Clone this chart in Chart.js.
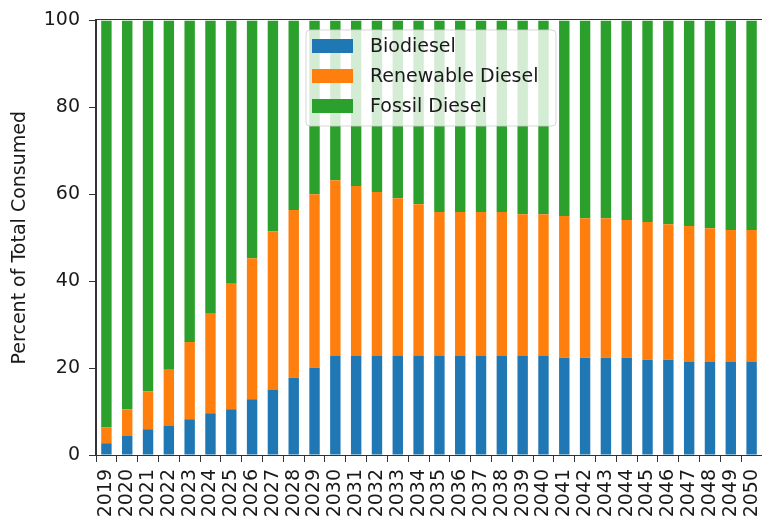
<!DOCTYPE html>
<html>
<head>
<meta charset="utf-8">
<script src="https://cdn.jsdelivr.net/npm/chart.js@4"></script>
<style>
  html, body { margin: 0; padding: 0; background: #fff; }
  #wrap { width: 762px; height: 522px; }
</style>
</head>
<body>
<div id="wrap"><canvas id="grafico" width="762" height="522"></canvas></div>
<script>
const years = ['2019','2020','2021','2022','2023','2024','2025','2026','2027','2028',
  '2029','2030','2031','2032','2033','2034','2035','2036','2037','2038','2039','2040',
  '2041','2042','2043','2044','2045','2046','2047','2048','2049','2050'];

// biodiesel share (%)
const biodiesel = [2.7, 4.4, 5.9, 6.8, 8.2, 9.6, 10.5, 12.8, 15.1, 17.8,
  20.1, 22.9, 22.9, 22.9, 22.9, 22.9, 22.9, 22.9, 22.9, 22.9, 22.9, 22.9,
  22.4, 22.4, 22.4, 22.4, 21.9, 21.9, 21.5, 21.5, 21.5, 21.5];

// renewable diesel share (%)
const renewable = [3.6, 6.1, 8.7, 12.8, 17.8, 22.9, 28.9, 32.5, 36.3, 38.6,
  39.9, 40.3, 39.0, 37.6, 36.2, 34.8, 33.0, 33.0, 33.0, 33.0, 32.5, 32.5,
  32.6, 32.1, 32.1, 31.7, 31.7, 31.2, 31.2, 30.7, 30.3, 30.3];

// fossil diesel share (%)
const fossil = [93.7, 89.5, 85.4, 80.4, 74.0, 67.5, 60.6, 54.7, 48.6, 43.6,
  40.0, 36.8, 38.1, 39.5, 40.9, 42.3, 44.1, 44.1, 44.1, 44.1, 44.6, 44.6,
  45.0, 45.5, 45.5, 45.9, 46.4, 46.9, 47.3, 47.8, 48.2, 48.2];

const yTicks = [0, 20, 40, 60, 80, 100];

const fuente = "'DejaVu Sans', sans-serif";
const texto = '#1a1a1a';
const tam = 19;

// marco completo y leyenda dentro del grafico (estilo matplotlib)
const marcoYLeyenda = {
  id: 'marcoYLeyenda',
  afterDraw(chart) {
    const ctx = chart.ctx;
    const a = chart.chartArea;
    ctx.save();
    ctx.strokeStyle = '#333';
    ctx.lineWidth = 1;
    ctx.strokeRect(Math.round(a.left) - 0.5, Math.round(a.top) - 0.5,
      Math.round(a.right - a.left) + 1, Math.round(a.bottom - a.top) + 1);

    // leyenda
    const x = 306, y = 30, w = 250, h = 96, r = 4;
    ctx.beginPath();
    ctx.moveTo(x + r, y);
    ctx.arcTo(x + w, y, x + w, y + h, r);
    ctx.arcTo(x + w, y + h, x, y + h, r);
    ctx.arcTo(x, y + h, x, y, r);
    ctx.arcTo(x, y, x + w, y, r);
    ctx.closePath();
    ctx.fillStyle = 'rgba(255,255,255,0.8)';
    ctx.fill();
    ctx.strokeStyle = 'rgba(204,204,204,0.8)';
    ctx.stroke();

    ctx.font = tam + 'px ' + fuente;
    ctx.textBaseline = 'middle';
    chart.data.datasets.forEach((ds, i) => {
      const cy = 46 + i * 30;
      ctx.fillStyle = ds.backgroundColor;
      ctx.fillRect(312, cy - 7, 41, 14);
      ctx.fillStyle = texto;
      ctx.fillText(ds.label, 370, cy + 1);
    });
    ctx.restore();
  }
};

new Chart('grafico', {
  type: 'bar',
  data: {
    labels: years,
    datasets: [
      { label: 'Biodiesel', data: biodiesel, backgroundColor: '#1f77b4' },
      { label: 'Renewable Diesel', data: renewable, backgroundColor: '#ff7f0e' },
      { label: 'Fossil Diesel', data: fossil, backgroundColor: '#2ca02c' }
    ]
  },
  options: {
    responsive: false,
    animation: false,
    layout: { padding: { left: 0, right: -3, top: 19, bottom: 0 } },
    datasets: { bar: { barPercentage: 0.5, categoryPercentage: 1.0 } },
    plugins: {
      legend: { display: false },
      tooltip: { enabled: false }
    },
    scales: {
      x: {
        stacked: true,
        grid: { display: true, drawOnChartArea: false, drawTicks: true, tickLength: 7, color: '#333' },
        border: { display: true, color: '#333' },
        ticks: {
          color: texto,
          font: { family: fuente, size: tam },
          maxRotation: 90, minRotation: 90,
          autoSkip: false,
          padding: 7
        },
        afterFit(scale) {
          scale.height = 67;
          scale.paddingLeft = 0;
          scale.paddingRight = 0;
        }
      },
      y: {
        stacked: true,
        min: 0,
        max: 100,
        afterBuildTicks(scale) { scale.ticks = yTicks.map(v => ({ value: v })); },
        grid: { display: true, drawOnChartArea: false, drawTicks: true, tickLength: 7, color: '#333' },
        border: { display: true, color: '#333' },
        ticks: {
          color: texto,
          font: { family: fuente, size: tam },
          padding: 9
        },
        title: {
          display: true,
          text: 'Percent of Total Consumed',
          color: texto,
          font: { family: fuente, size: tam },
          padding: { top: 9, bottom: 4 }
        },
        afterFit(scale) { scale.width = 96; }
      }
    }
  },
  plugins: [marcoYLeyenda]
});
</script>
</body>
</html>
